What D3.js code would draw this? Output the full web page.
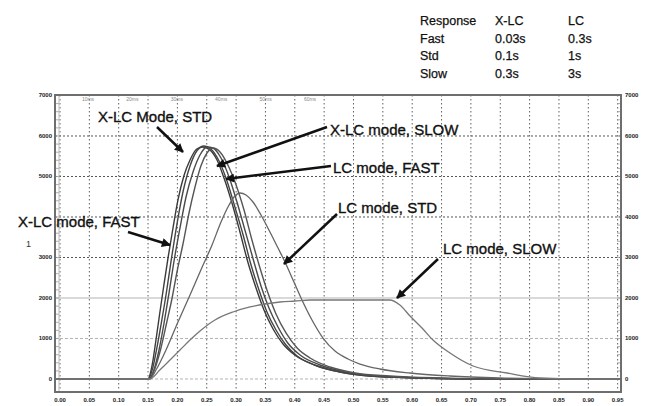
<!DOCTYPE html>
<html><head><meta charset="utf-8">
<script src="https://cdn.jsdelivr.net/npm/d3@7"></script>
<style>body{margin:0;background:#fff}svg{display:block}text{font-family:"Liberation Sans",Arial,sans-serif}</style>
</head><body><svg id="c" width="645" height="406"></svg>
<script>
// ---------- data ----------
const xTickValues = [0,0.05,0.1,0.15,0.2,0.25,0.3,0.35,0.4,0.45,0.5,0.55,0.6,0.65,0.7,0.75,0.8,0.85,0.9,0.95];
const xTickLabels = ["0.00","0.05","0.10","0.15","0.20","0.25","0.30","0.35","0.40","0.45","0.50","0.55","0.60","0.65","0.70","0.75","0.80","0.85","0.90","0.95"];
const yTickValues = [0,1000,2000,3000,4000,5000,6000,7000];
const yTickLabels = ["0","1000","2000","3000","4000","5000","6000","7000"];
const topLabels = ["10ms","20ms","30ms","40ms","50ms","60ms"];

const tableHeader = ["Response","X-LC","LC"];
const responseNames = ["Fast","Std","Slow"];
const xlcTimes = ["0.03s","0.1s","0.3s"];
const lcTimes = ["0.3s","1s","3s"];

const xlcFast = [[0.150,0],[0.157,346],[0.1635,963],[0.170,1630],[0.177,2321],[0.184,2987],[0.1925,3728],[0.201,4420],[0.211,5012],[0.2215,5407],[0.233,5679],[0.2436,5728],[0.2555,5654],[0.2675,5407],[0.2794,4963],[0.293,4345],[0.3066,3629],[0.320,2889],[0.334,2247],[0.3475,1704],[0.363,1235],[0.380,864],[0.400,593],[0.434,346],[0.477,173],[0.528,74],[0.613,25],[0.7155,0]];
const xlcStd = [[0.150,0],[0.158,272],[0.165,765],[0.172,1333],[0.1806,2074],[0.189,2889],[0.199,3802],[0.2095,4617],[0.2215,5259],[0.233,5629],[0.2453,5753],[0.257,5679],[0.271,5382],[0.2845,4889],[0.298,4247],[0.312,3555],[0.325,2839],[0.339,2197],[0.3526,1654],[0.368,1210],[0.385,839],[0.404,568],[0.438,321],[0.477,173],[0.528,74],[0.613,25],[0.7155,0]];
const xlcSlow = [[0.1516,0],[0.160,222],[0.1687,716],[0.177,1358],[0.1857,2123],[0.194,2889],[0.2044,3728],[0.2147,4494],[0.2266,5111],[0.2385,5531],[0.2504,5728],[0.2606,5703],[0.2743,5456],[0.288,4987],[0.3015,4370],[0.315,3679],[0.329,2963],[0.3424,2296],[0.356,1753],[0.3714,1284],[0.388,889],[0.409,593],[0.443,346],[0.4855,173],[0.5366,74],[0.622,25],[0.7325,0]];
const lcFast = [[0.1516,0],[0.162,272],[0.172,765],[0.182,1407],[0.191,2000],[0.1993,2642],[0.2095,3333],[0.2198,4099],[0.230,4740],[0.240,5259],[0.2504,5580],[0.2606,5703],[0.2726,5605],[0.286,5284],[0.300,4790],[0.3135,4173],[0.327,3432],[0.3407,2741],[0.3543,2123],[0.368,1605],[0.385,1136],[0.404,765],[0.426,518],[0.460,296],[0.5026,148],[0.562,74],[0.6474,25],[0.7496,0]];
const lcStd = [[0.153,0],[0.1635,222],[0.1806,716],[0.201,1407],[0.2215,2074],[0.240,2691],[0.259,3308],[0.2743,3876],[0.288,4296],[0.298,4518],[0.3066,4592],[0.3169,4543],[0.3288,4370],[0.3424,4049],[0.3577,3629],[0.3714,3234],[0.3833,2889],[0.397,2444],[0.4106,2000],[0.4293,1457],[0.448,1012],[0.4685,691],[0.4906,494],[0.511,370],[0.545,247],[0.596,148],[0.664,74],[0.7496,25],[0.852,0]];
const lcSlow = [[0.153,0],[0.170,222],[0.1874,469],[0.2044,716],[0.2215,963],[0.2385,1185],[0.264,1457],[0.2947,1654],[0.3237,1778],[0.349,1852],[0.3748,1901],[0.4003,1926],[0.426,1951],[0.562,1951],[0.579,1827],[0.5963,1555],[0.6167,1259],[0.6354,963],[0.6644,642],[0.7036,321],[0.7615,148],[0.8177,25],[0.886,0]];

const seriesNames = ["X-LC mode, FAST","X-LC Mode, STD","X-LC mode, SLOW","LC mode, FAST","LC mode, STD","LC mode, SLOW"];
const seriesData = [xlcFast, xlcStd, xlcSlow, lcFast, lcStd, lcSlow];

// ---------- layout ----------
const L = 55, R = 621, T = 95, B = 392;
const svg = d3.select("#c");
const x = d3.scaleLinear().domain([-0.0085, 0.9557]).range([L, R]);
const y = d3.scaleLinear().domain([-321, 7012]).range([B, T]);

// grid
const g = svg.append("g");
g.selectAll(".vg").data(xTickValues).join("line")
  .attr("x1", d => x(d)).attr("x2", d => x(d)).attr("y1", T).attr("y2", B)
  .attr("stroke", "#5e5e5e").attr("stroke-width", 1).attr("stroke-dasharray", "1.5,2.5");
g.selectAll(".hg").data(yTickValues.filter(v => v < 7000)).join("line")
  .attr("x1", L).attr("x2", R).attr("y1", d => y(d)).attr("y2", d => y(d))
  .attr("stroke", d => d <= 2000 ? "#b4b4b4" : "#555")
  .attr("stroke-width", 1)
  .attr("stroke-dasharray", d => d === 2000 ? null : (d <= 1000 ? "3,2" : "2,2"));
// minor ticks inside borders
const minor = d3.range(0, 7000, 200);
g.selectAll(".ml").data(minor).join("line")
  .attr("x1", L).attr("x2", L + 4).attr("y1", d => y(d)).attr("y2", d => y(d))
  .attr("stroke", "#999").attr("stroke-width", 0.8);
g.selectAll(".mr").data(minor).join("line")
  .attr("x1", R - 4).attr("x2", R).attr("y1", d => y(d)).attr("y2", d => y(d))
  .attr("stroke", "#999").attr("stroke-width", 0.8);
g.append("line").attr("x1", L + 4).attr("x2", L + 4).attr("y1", T).attr("y2", B).attr("stroke", "#bbb").attr("stroke-width", 1);

// curves
const line = d3.line().x(d => x(d[0])).y(d => y(d[1])).curve(d3.curveMonotoneX);
const strokeCol = ["#3a3a3a","#444","#4a4a4a","#555","#666","#777"];
const strokeW = [1.4,1.4,1.4,1.4,1.3,1.3];
svg.append("g").selectAll("path").data(seriesData).join("path")
  .attr("d", d => line([[x.domain()[0], 0], ...d, [x.domain()[1], 0]]))
  .attr("fill", "none")
  .attr("stroke", (d, i) => strokeCol[i])
  .attr("stroke-width", (d, i) => strokeW[i]);

// frame
svg.append("rect").attr("x", L).attr("y", T).attr("width", R - L).attr("height", B - T)
  .attr("fill", "none").attr("stroke", "#6e6e6e").attr("stroke-width", 2);

// y tick labels both sides (left 4000 label is hidden under an annotation in the original)
const yl = svg.append("g").attr("font-size", 6).attr("font-weight", "bold").attr("fill", "#222");
yl.selectAll(".l").data(yTickValues.filter(v => v !== 4000)).join("text")
  .attr("x", L - 3).attr("y", d => y(d) + 2).attr("text-anchor", "end")
  .text(d => yTickLabels[yTickValues.indexOf(d)]);
yl.selectAll(".r").data(yTickValues).join("text")
  .attr("x", R + 4).attr("y", d => y(d) + 2).attr("text-anchor", "start")
  .text((d, i) => yTickLabels[i]);
// x tick labels
svg.append("g").attr("font-size", 6).attr("font-weight", "bold").attr("fill", "#222")
  .selectAll("text").data(xTickValues).join("text")
  .attr("x", d => x(d)).attr("y", B + 10).attr("text-anchor", "middle")
  .text((d, i) => xTickLabels[i]);
// top inner labels
const tp = d3.scalePoint().domain(topLabels).range([88, 310]);
svg.append("g").attr("font-size", 5).attr("fill", "#888")
  .selectAll("text").data(topLabels).join("text")
  .attr("x", d => tp(d)).attr("y", T + 6).attr("text-anchor", "middle").text(d => d);
svg.append("text").attr("x", 26).attr("y", 247).attr("font-size", 9).attr("fill", "#333").text("1");

// table
const tb = svg.append("g").attr("font-size", 12.5).attr("fill", "#111")
  .attr("stroke", "#111").attr("stroke-width", 0.25);
const colX = [420, 495, 568];
const rowY = [25, 42.5, 60, 77.5];
tableHeader.forEach((t, i) => tb.append("text").attr("x", colX[i]).attr("y", rowY[0]).text(t));
responseNames.forEach((t, r) => {
  tb.append("text").attr("x", colX[0]).attr("y", rowY[r + 1]).text(t);
  tb.append("text").attr("x", colX[1]).attr("y", rowY[r + 1]).text(xlcTimes[r]);
  tb.append("text").attr("x", colX[2]).attr("y", rowY[r + 1]).text(lcTimes[r]);
});

// annotations
svg.append("defs").append("marker").attr("id", "ah").attr("viewBox", "0 0 10 10")
  .attr("refX", 9).attr("refY", 5).attr("markerWidth", 4).attr("markerHeight", 3.6)
  .attr("orient", "auto").append("path").attr("d", "M0,0L10,5L0,10z").attr("fill", "#111");
const ann = [
  {name: seriesNames[1], tx: 98, ty: 122, a: [157, 127, 183, 152]},
  {name: seriesNames[2], tx: 330, ty: 135, a: [327, 127, 217, 166]},
  {name: seriesNames[3], tx: 333, ty: 173, a: [331, 166, 226, 179]},
  {name: seriesNames[4], tx: 338, ty: 213, a: [337, 214, 284, 264]},
  {name: seriesNames[0], tx: 18, ty: 227, a: [128, 232, 170, 245]},
  {name: seriesNames[5], tx: 443, ty: 254, a: [438, 259, 397, 298]}
];
const ag = svg.append("g");
ag.selectAll("line").data(ann).join("line")
  .attr("x1", d => d.a[0]).attr("y1", d => d.a[1]).attr("x2", d => d.a[2]).attr("y2", d => d.a[3])
  .attr("stroke", "#111").attr("stroke-width", 2.5).attr("marker-end", "url(#ah)");
ag.selectAll("text").data(ann).join("text")
  .attr("x", d => d.tx).attr("y", d => d.ty).attr("font-size", 15).attr("fill", "#111")
  .attr("stroke", "#111").attr("stroke-width", 0.35)
  .text(d => d.name);
</script></body></html>
